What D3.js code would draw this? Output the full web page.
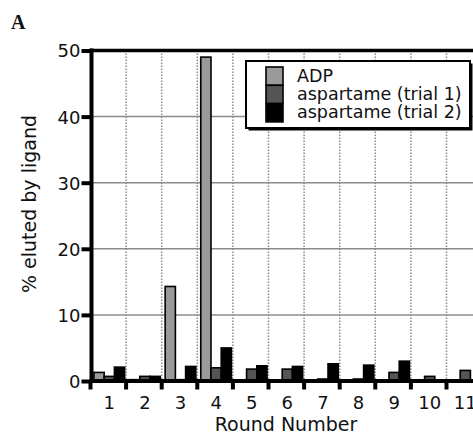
<!DOCTYPE html>
<html>
<head>
    <meta charset="utf-8">
    <title>% eluted by ligand</title>
    <script src="https://d3js.org/d3.v7.min.js"></script>
    <style>
        body { margin: 0; background: #fff; }
        svg text { font-family: "DejaVu Sans", Verdana, sans-serif; fill: #111; }
    </style>
</head>
<body>
<svg class="chart" width="473" height="435"></svg>

<script>
    ///////////////////////////////DATA/////////////////////////////////////////////
    var rounds = ["1", "2", "3", "4", "5", "6", "7", "8", "9", "10", "11"];
    var seriesNames = ["ADP", "aspartame (trial 1)", "aspartame (trial 2)"];
    var seriesColors = ["#9a9a9a", "#555555", "#000000"];
    var adp    = [1.3, 0.2, 14.3, 49.0, 0.1, 0.1, 0.0, 0.0, 0.0, 0.0, 0.0];
    var trial1 = [0.7, 0.7, 0.2, 2.0, 1.8, 1.8, 0.3, 0.3, 1.3, 0.7, 1.6];
    var trial2 = [2.1, 0.7, 2.2, 5.0, 2.3, 2.2, 2.6, 2.4, 3.0, 0.0, 0.0];
    var yTicks = [0, 10, 20, 30, 40, 50];

    // one row per round, for the grouped bars (s = series index)
    var table = rounds.map(function (r, i) {
        return {
            round: r,
            values: [adp[i], trial1[i], trial2[i]].map(function (v, s) { return { s: s, v: v }; })
        };
    });

    ////////////////////////////////SCALES/////////////////////////////////////////
    var svg = d3.select("svg");
    // (window.top is read-only, so not "top")
    var plotLeft = 91.5, plotTop = 50.5, plotBottom = 381;
    var step = 35.6;

    var xScale = d3.scaleBand()
        .domain(rounds)
        .range([plotLeft, plotLeft + step * rounds.length])
        .padding(0);
    var xSub = d3.scaleBand()
        .domain(d3.range(seriesNames.length))
        .range([0, xScale.bandwidth()])
        .paddingInner(0)
        .paddingOuter(0.24);
    var yScale = d3.scaleLinear()
        .domain([0, 50])
        .range([plotBottom, plotTop]);

    ////////////////////////////////GRID///////////////////////////////////////////
    svg.append("g").selectAll("line")
        .data(yTicks.filter(function (t) { return t > 0 && t < 50; }))
        .enter().append("line")
        .attr("x1", plotLeft).attr("x2", 473)
        .attr("y1", function (d) { return yScale(d); })
        .attr("y2", function (d) { return yScale(d); })
        .attr("stroke", "#8c8c8c")
        .attr("stroke-width", 1.5);

    svg.append("g").selectAll("line")
        .data(rounds.slice(1))
        .enter().append("line")
        .attr("x1", function (d) { return xScale(d) - 1; })
        .attr("x2", function (d) { return xScale(d) - 1; })
        .attr("y1", plotTop).attr("y2", plotBottom)
        .attr("stroke", "#8c8c8c")
        .attr("stroke-width", 1.5)
        .attr("stroke-dasharray", "1.5,1.5");

    ////////////////////////////////BARS///////////////////////////////////////////
    var groups = svg.append("g").selectAll("g")
        .data(table)
        .enter().append("g")
        .attr("transform", function (d) { return "translate(" + xScale(d.round) + ",0)"; });

    groups.selectAll("rect")
        .data(function (d) { return d.values.filter(function (e) { return e.v > 0; }); })
        .enter().append("rect")
        .attr("x", function (e) { return xSub(e.s); })
        .attr("width", xSub.bandwidth())
        .attr("y", function (e) { return yScale(e.v); })
        .attr("height", function (e) { return plotBottom - yScale(e.v); })
        .attr("fill", function (e) { return seriesColors[e.s]; })
        .attr("stroke", "#000")
        .attr("stroke-width", 1.6);

    ////////////////////////////////AXES///////////////////////////////////////////
    // top frame
    svg.append("line")
        .attr("x1", plotLeft - 2).attr("x2", 473)
        .attr("y1", plotTop).attr("y2", plotTop)
        .attr("stroke", "#000").attr("stroke-width", 3.5);

    var yAxis = d3.axisLeft(yScale)
        .tickValues(yTicks)
        .tickSize(10)
        .tickPadding(1)
        .tickFormat(d3.format("d"));
    var gy = svg.append("g")
        .attr("transform", "translate(" + plotLeft + ",0)")
        .call(yAxis);
    gy.select(".domain").attr("stroke-width", 4).attr("d", "M0," + (plotTop - 2) + "V" + (plotBottom + 2));
    gy.selectAll(".tick line").attr("stroke-width", 4);
    gy.selectAll(".tick text")
        .attr("font-size", 18)
        .attr("font-family", "DejaVu Sans")
        .attr("fill", "#111")
        .attr("dy", "0.36em");

    var gx = svg.append("g")
        .attr("transform", "translate(0," + plotBottom + ")")
        .call(d3.axisBottom(xScale).tickSize(0).tickPadding(15));
    gx.select(".domain").remove();
    gx.selectAll(".tick text")
        .attr("font-size", 18)
        .attr("font-family", "DejaVu Sans")
        .attr("fill", "#111");

    // x baseline and tick marks at the round boundaries
    svg.append("line")
        .attr("x1", plotLeft - 2).attr("x2", 473)
        .attr("y1", plotBottom).attr("y2", plotBottom)
        .attr("stroke", "#000").attr("stroke-width", 4);
    svg.append("g").selectAll("line")
        .data(rounds)
        .enter().append("line")
        .attr("x1", function (d) { return xScale(d) - 1; })
        .attr("x2", function (d) { return xScale(d) - 1; })
        .attr("y1", plotBottom).attr("y2", plotBottom + 8.5)
        .attr("stroke", "#000").attr("stroke-width", 4);

    ////////////////////////////////LABELS/////////////////////////////////////////
    svg.append("text")
        .attr("transform", "translate(36,204) rotate(-90)")
        .attr("text-anchor", "middle")
        .attr("font-size", 19)
        .text("% eluted by ligand");

    svg.append("text")
        .attr("x", 286).attr("y", 431)
        .attr("text-anchor", "middle")
        .attr("font-size", 19)
        .text("Round Number");

    svg.append("text")
        .attr("x", 11).attr("y", 28.5)
        .attr("font-weight", "bold")
        .attr("font-size", 20)
        .style("font-family", "'Liberation Serif', serif")
        .text("A");

    ////////////////////////////////LEGEND/////////////////////////////////////////
    var legend = svg.append("g").attr("transform", "translate(246,61)");
    legend.append("rect")
        .attr("x", 2.5).attr("y", 2.5)
        .attr("width", 224).attr("height", 67)
        .attr("fill", "#000");
    legend.append("rect")
        .attr("width", 224).attr("height", 67)
        .attr("fill", "#fff")
        .attr("stroke", "#000").attr("stroke-width", 2);

    var items = legend.selectAll("g.item")
        .data(seriesNames)
        .enter().append("g")
        .attr("class", "item")
        .attr("transform", function (d, i) { return "translate(20," + (6 + i * 18.3) + ")"; });
    items.append("rect")
        .attr("width", 17).attr("height", 18.3)
        .attr("fill", function (d, i) { return seriesColors[i]; })
        .attr("stroke", "#000").attr("stroke-width", 1.6);
    items.append("text")
        .attr("x", 31).attr("y", 14.5)
        .attr("font-size", 17.5)
        .attr("fill", function (d, i) { return i === 0 ? "#444" : "#111"; })
        .text(function (d) { return d; });
</script>
</body>
</html>
